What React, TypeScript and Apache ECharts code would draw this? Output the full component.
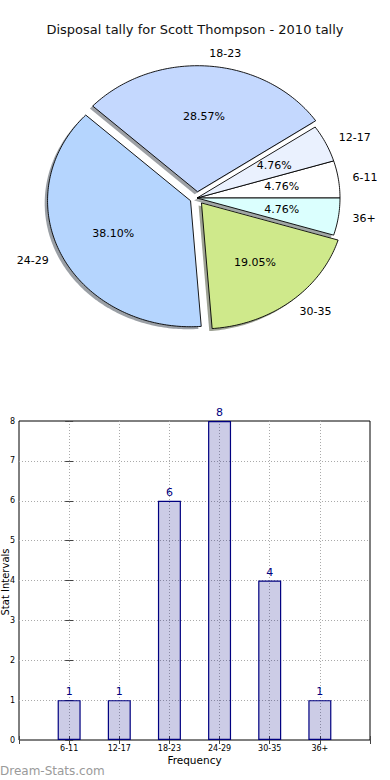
import React, { useEffect, useRef } from "react";
import * as echarts from "echarts";

const categories = ["6-11", "12-17", "18-23", "24-29", "30-35", "36+"];
const tallies = [1, 1, 6, 8, 4, 1];
const sliceColors = ["#ffffff", "#eaf1fe", "#c4d8fe", "#b5d5fe", "#cfe98b", "#dbfffe"];
const explode = [0, 0, 0.05, 0.05, 0.05, 0];
const titleText = "Disposal tally for Scott Thompson - 2010 tally";

const FONT = "DejaVu Sans";
// pie layout (pixels)
const CX = 197;
const CY = 198;
const RX = 143;
const RY = 126;

const total = tallies.reduce((a, b) => a + b, 0);

function sliceGeom(i: number) {
  let start = 0;
  for (let j = 0; j < i; j++) start += (tallies[j] / total) * 360;
  const sweep = (tallies[i] / total) * 360;
  const mid = start + sweep / 2;
  const rad = (d: number) => (d * Math.PI) / 180;
  const e = explode[i];
  const ox = CX + e * RX * Math.cos(rad(mid));
  const oy = CY - e * RY * Math.sin(rad(mid));
  const pts: number[][] = [[ox, oy]];
  const steps = Math.max(4, Math.ceil(sweep));
  for (let k = 0; k <= steps; k++) {
    const t = rad(start + (sweep * k) / steps);
    pts.push([ox + RX * Math.cos(t), oy - RY * Math.sin(t)]);
  }
  return { pts, mid: rad(mid), ox, oy };
}

function shadowColor(hex: string) {
  const n = parseInt(hex.slice(1), 16);
  const r = Math.round(((n >> 16) & 255) * 0.3);
  const g = Math.round(((n >> 8) & 255) * 0.3);
  const b = Math.round((n & 255) * 0.3);
  return `rgba(${r},${g},${b},0.5)`;
}

export default function App() {
  const ref = useRef<HTMLDivElement>(null);
  useEffect(() => {
    document.body.style.margin = "0";
    const chart = echarts.init(ref.current!, undefined, { renderer: "svg" });
    const pieData = tallies.map((v, i) => [i, v]);
    chart.setOption({
      animation: false,
      backgroundColor: "#ffffff",
      textStyle: { fontFamily: FONT },
      title: {
        text: titleText,
        left: "center",
        top: 18,
        textStyle: { fontFamily: FONT, fontSize: 13, fontWeight: "normal", color: "#111" },
      },
      grid: {
        left: 19,
        top: 421,
        width: 351,
        height: 319,
        show: true,
        borderColor: "#000",
        borderWidth: 1,
        backgroundColor: "transparent",
      },
      xAxis: [
        {
          type: "value",
          min: -1,
          max: 6,
          interval: 1,
          axisLine: { show: false },
          axisTick: { show: true, inside: true, length: 4, lineStyle: { color: "#444" } },
          axisLabel: {
            fontSize: 8,
            color: "#000",
            margin: 4,
            fontFamily: FONT,
            formatter: (v: number) => categories[v] ?? "",
          },
          splitLine: {
            show: true,
            showMinLine: false,
            showMaxLine: false,
            lineStyle: { type: [1, 2], color: "#aaa", width: 1 },
          },
          name: "Frequency",
          nameLocation: "middle",
          nameGap: 14,
          nameTextStyle: { fontSize: 10.5, color: "#000", fontFamily: FONT },
        },
        {
          type: "value",
          position: "top",
          min: -1,
          max: 6,
          interval: 1,
          axisLine: { show: false },
          axisTick: { show: true, inside: true, length: 4, lineStyle: { color: "#444" } },
          axisLabel: { show: false },
          splitLine: { show: false },
        },
      ],
      yAxis: [
        {
          type: "value",
          min: 0,
          max: 8,
          interval: 1,
          axisLine: { show: false },
          axisTick: { show: true, inside: true, length: 4, lineStyle: { color: "#444" } },
          axisLabel: { fontSize: 8, color: "#000", margin: 4, fontFamily: FONT },
          splitLine: {
            show: true,
            showMinLine: false,
            showMaxLine: false,
            lineStyle: { type: [1, 2], color: "#aaa", width: 1 },
          },
        },
        {
          type: "value",
          position: "right",
          min: 0,
          max: 8,
          interval: 1,
          axisLine: { show: false },
          axisTick: { show: true, inside: true, length: 4, lineStyle: { color: "#444" } },
          axisLabel: { show: false },
          splitLine: { show: false },
        },
      ],
      graphic: [
        {
          type: "text",
          x: 5,
          y: 582,
          rotation: Math.PI / 2,
          style: {
            text: "Stat Intervals",
            fontFamily: FONT,
            fontSize: 10,
            fill: "#000",
            align: "center",
            verticalAlign: "middle",
          },
        },
        {
          type: "text",
          x: 0,
          y: 771,
          style: {
            text: "Dream-Stats.com",
            fontFamily: FONT,
            fontSize: 12,
            fill: "#9a9a9a",
            align: "left",
            verticalAlign: "middle",
          },
        },
      ],
      series: [
        {
          type: "custom",
          coordinateSystem: "none",
          z: 1,
          data: pieData,
          renderItem: (params: any, api: any) => {
            const i = api.value(0);
            const g = sliceGeom(i);
            const dx = -0.02 * RX;
            const dy = 0.02 * RY;
            return {
              type: "polygon",
              shape: { points: g.pts.map((p) => [p[0] + dx, p[1] + dy]) },
              style: { fill: shadowColor(sliceColors[i]), stroke: "none" },
            };
          },
        },
        {
          type: "custom",
          coordinateSystem: "none",
          z: 2,
          data: pieData,
          renderItem: (params: any, api: any) => {
            const i = api.value(0);
            const v = api.value(1);
            const g = sliceGeom(i);
            const c = Math.cos(g.mid);
            const s = Math.sin(g.mid);
            const pct = ((v / total) * 100).toFixed(2) + "%";
            return {
              type: "group",
              children: [
                {
                  type: "polygon",
                  shape: { points: g.pts },
                  style: { fill: sliceColors[i], stroke: "#000", lineWidth: 0.9 },
                },
                {
                  type: "text",
                  x: g.ox + 0.6 * RX * c,
                  y: g.oy - 0.6 * RY * s,
                  z2: 10,
                  style: {
                    text: pct,
                    fontFamily: FONT,
                    fontSize: 11,
                    fill: "#000",
                    align: "center",
                    verticalAlign: "middle",
                  },
                },
                {
                  type: "text",
                  x: g.ox + 1.1 * RX * c,
                  y: g.oy - 1.1 * RY * s,
                  z2: 10,
                  style: {
                    text: categories[i],
                    fontFamily: FONT,
                    fontSize: 11,
                    fill: "#000",
                    align: c > 0 ? "left" : "right",
                    verticalAlign: "middle",
                  },
                },
              ],
            };
          },
        },
        {
          type: "bar",
          xAxisIndex: 0,
          yAxisIndex: 0,
          barWidth: 23,
          data: tallies.map((v, i) => [i, v]),
          itemStyle: { color: "rgba(0,0,128,0.2)", borderColor: "#000080", borderWidth: 1.2 },
          label: {
            show: true,
            position: "top",
            distance: 3,
            color: "#000080",
            fontSize: 11,
            fontFamily: FONT,
            formatter: (p: any) => String(p.value[1]),
          },
        },
      ],
    });
    return () => chart.dispose();
  }, []);
  return <div ref={ref} style={{ width: 390, height: 780 }} />;
}
